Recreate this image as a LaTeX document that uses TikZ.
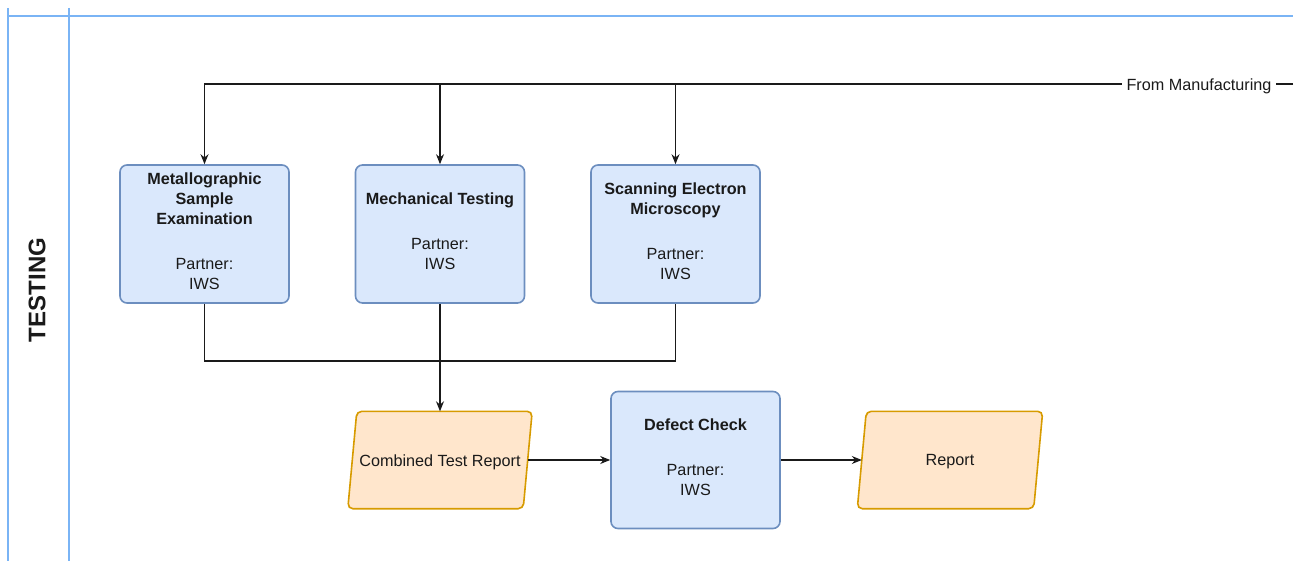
\documentclass[tikz,border=0pt]{standalone}
\usepackage{fontspec}
\setmainfont{Liberation Sans}
\usetikzlibrary{arrows.meta,calc,backgrounds}
\definecolor{bfill}{HTML}{DAE8FC}
\definecolor{bdraw}{HTML}{6C8EBF}
\definecolor{ofill}{HTML}{FFE6CC}
\definecolor{odraw}{HTML}{D79B00}
\definecolor{poolc}{HTML}{7AB4F5}
\definecolor{txt}{HTML}{1A1A1A}
\begin{document}
\begin{tikzpicture}[x=1pt,y=-1pt,
  every node/.style={font=\fontsize{16.2}{20}\selectfont, text=txt},
  procbox/.style={draw=bdraw, fill=bfill, line width=1.6pt, rounded corners=7pt,
    minimum width=169pt, minimum height=138pt, inner sep=0pt},
  boxtxt/.style={align=center, inner sep=0pt},
  iobox/.style={minimum height=97pt, inner sep=0pt},
  para/.style={draw=odraw, fill=ofill, line width=1.6pt, rounded corners=5pt},
  arr/.style={draw=txt, line width=1.1pt, -{Stealth[length=10pt,width=8pt]}},
  conn/.style={draw=txt, line width=1.1pt},
  pool/.style={draw=poolc, line width=1.5pt}]
\useasboundingbox (0,0) rectangle (1299,561);

% pool lines
\draw[pool] (8,8) -- (8,561);
\draw[pool] (69,8) -- (69,561);
\draw[pool] (8,16) -- (1293,16);
\node[rotate=90, font=\fontsize{24}{28}\selectfont\bfseries] (lane) at (37,290) {TESTING};

% process boxes
\node[procbox] (b1) at (204.5,234) {};
\node[procbox] (b2) at (440,234) {};
\node[procbox] (b3) at (675.5,234) {};
\node[procbox, minimum height=137pt] (dc) at (695.5,460) {};
\node[boxtxt] (b1t) at ($(b1)+(0,-3)$) {\textbf{Metallographic}\\\textbf{Sample}\\\textbf{Examination}\\[25pt]Partner:\\IWS};
\node[boxtxt] (b2t) at ($(b2)+(0,-3)$) {\textbf{Mechanical Testing}\\[25pt]Partner:\\IWS};
\node[boxtxt] (b3t) at ($(b3)+(0,-3)$) {\textbf{Scanning Electron}\\\textbf{Microscopy}\\[25pt]Partner:\\IWS};
\node[boxtxt] (dct) at ($(dc)+(0,-3)$) {\textbf{Defect Check}\\[25pt]Partner:\\IWS};

% io boxes
\node[iobox, minimum width=175pt] (crt) at (440,460) {};
\node[iobox, minimum width=176pt] (rep) at (950,460) {};
\node[boxtxt] (crtt) at ($(crt)+(0,2)$) {Combined Test Report};
\node[boxtxt] (rept) at ($(rep)+(0,2)$) {Report};
\begin{scope}[on background layer]
\foreach \n in {crt,rep}{
  \draw[para] ($(\n.south west)+(-4.5,0)$) -- ($(\n.north west)+(4.5,0)$) -- ($(\n.north east)+(4.5,0)$) -- ($(\n.south east)+(-4.5,0)$) -- cycle;
}
\end{scope}

% input connectors
\coordinate (src) at (1293,84);
\draw[arr] (src) -| (b1.north);
\draw[arr] (b2.north |- src) -- (b2.north);
\draw[arr] (b3.north |- src) -- (b3.north);
\node[fill=white, inner sep=5pt] (fm) at (1199,86) {From Manufacturing};

% merge connectors
\coordinate (jn) at (440,361);
\draw[conn] (b1.south) |- (jn) -| (b3.south);
\draw[arr] (b2.south) -- (crt.north);
\draw[arr] (crt.east) -- (dc.west);
\draw[arr] (dc.east) -- (rep.west);
\end{tikzpicture}
\end{document}
